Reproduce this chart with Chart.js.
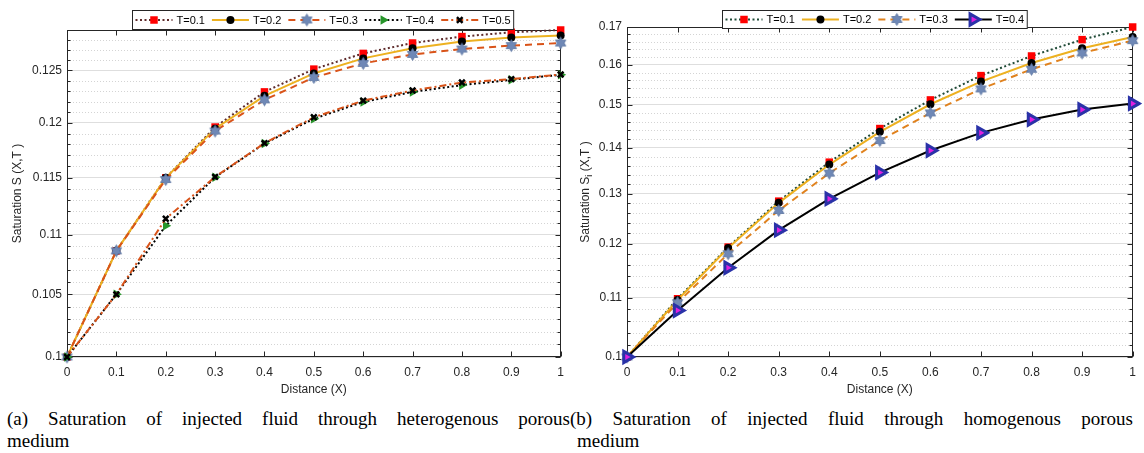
<!DOCTYPE html>
<html>
<head>
<meta charset="utf-8">
<script src="https://cdn.jsdelivr.net/npm/chart.js@4.4.1/dist/chart.umd.min.js"></script>
<style>
html,body{margin:0;padding:0;background:#fff;}
body{width:1144px;height:453px;overflow:hidden;position:relative;}
.box{position:absolute;top:0;width:572px;height:400px;}
canvas{display:block;}
.cap{position:absolute;font-family:"Liberation Serif","Times New Roman",serif;font-size:19px;line-height:22px;color:#000;}
.cap .l1{text-align:justify;text-align-last:justify;}
</style>
</head>
<body>
<div class="box" style="left:0"><canvas id="cLeft" width="572" height="400"></canvas></div>
<div class="box" style="left:572px"><canvas id="cRight" width="572" height="400"></canvas></div>
<div class="cap" style="left:7px;top:408px;width:563px;">
  <div class="l1">(a) Saturation of injected fluid through heterogenous porous</div>
  <div>medium</div>
</div>
<div class="cap" style="left:577px;top:408px;width:556px;">
  <div class="l1" style="text-indent:-7px">(b) Saturation of injected fluid through homogenous porous</div>
  <div>medium</div>
</div>
<script>
// ---------------- DATA ----------------
const xValues = [0, 0.1, 0.2, 0.3, 0.4, 0.5, 0.6, 0.7, 0.8, 0.9, 1];
const xTicks  = [0, 0.1, 0.2, 0.3, 0.4, 0.5, 0.6, 0.7, 0.8, 0.9, 1];

// (a) heterogenous porous medium
const leftLabels = ['T=0.1', 'T=0.2', 'T=0.3', 'T=0.4', 'T=0.5'];
const leftT01 = [0.1, 0.10862, 0.11497, 0.11961, 0.12293, 0.12513, 0.12667, 0.12770, 0.12834, 0.12877, 0.12900];
const leftT02 = [0.1, 0.10862, 0.11497, 0.11946, 0.12255, 0.12471, 0.12618, 0.12717, 0.12784, 0.12824, 0.12844];
const leftT03 = [0.1, 0.10862, 0.11482, 0.11924, 0.12217, 0.12432, 0.12569, 0.12657, 0.12710, 0.12744, 0.12770];
const leftT04 = [0.1, 0.10500, 0.11076, 0.11503, 0.11809, 0.12039, 0.12197, 0.12293, 0.12358, 0.12409, 0.12458];
const leftT05 = [0.1, 0.10500, 0.11137, 0.11506, 0.11812, 0.12052, 0.12210, 0.12306, 0.12383, 0.12416, 0.12461];
const leftYTicks = [0.1, 0.105, 0.11, 0.115, 0.12, 0.125];
const leftYMin = 0.1, leftYMax = 0.129, leftMinorStep = 0.001;

// (b) homogenous porous medium
const rightLabels = ['T=0.1', 'T=0.2', 'T=0.3', 'T=0.4'];
const rightT01 = [0.1, 0.10982, 0.11933, 0.12848, 0.13679, 0.14439, 0.15119, 0.15722, 0.16226, 0.16658, 0.17000];
const rightT02 = [0.1, 0.10959, 0.11914, 0.12813, 0.13627, 0.14362, 0.15014, 0.15571, 0.16045, 0.16428, 0.16729];
const rightT03 = [0.1, 0.10912, 0.11806, 0.12657, 0.13439, 0.14163, 0.14807, 0.15389, 0.15882, 0.16305, 0.16631];
const rightT04 = [0.1, 0.10778, 0.11543, 0.12263, 0.12896, 0.13453, 0.13937, 0.14339, 0.14649, 0.14886, 0.15030];
const rightYTicks = [0.1, 0.11, 0.12, 0.13, 0.14, 0.15, 0.16, 0.17];
const rightYMin = 0.1, rightYMax = 0.17, rightMinorStep = 0.002;

// ---------------- STYLE HELPERS ----------------
const FONT = '"Liberation Sans", Arial, Helvetica, sans-serif';
const AXIS = '#262626';

function hexagram(r, fill, stroke) {
  const c = document.createElement('canvas');
  const s = Math.ceil(2 * r + 3);
  c.width = s; c.height = s;
  const g = c.getContext('2d');
  g.translate(s / 2, s / 2);
  g.beginPath();
  for (let k = 0; k < 12; k++) {
    const ang = -Math.PI / 2 + k * Math.PI / 6;
    const rr = (k % 2 === 0) ? r : r / Math.sqrt(3);
    g.lineTo(rr * Math.cos(ang), rr * Math.sin(ang));
  }
  g.closePath();
  g.fillStyle = fill; g.fill();
  g.strokeStyle = stroke; g.lineWidth = 0.8; g.stroke();
  return c;
}
const hexImg = hexagram(6, '#6F88B6', '#5A73A0');

function pts(arr) { return xValues.map((x, i) => ({ x: x, y: arr[i] })); }

function minorValues(min, max, step, majors) {
  const out = [];
  const n = Math.round((max - min) / step);
  for (let k = 1; k <= n; k++) {
    const v = +(min + k * step).toFixed(6);
    if (v > max + 1e-9) break;
    if (!majors.some(m => Math.abs(m - v) < 1e-9)) out.push(v);
  }
  return out;
}

// ---------------- MATLAB-LIKE AXES PLUGIN ----------------
const matlabAxes = {
  id: 'matlabAxes',
  beforeDatasetsDraw(chart, args, o) {
    const { ctx, chartArea: a } = chart;
    const x = chart.scales.x, y = chart.scales.y;
    ctx.save();
    ctx.strokeStyle = '#d4d4d4';
    ctx.lineWidth = 1;
    ctx.setLineDash([1, 2]);
    o.minor.forEach(v => {
      const py = Math.round(y.getPixelForValue(v)) + 0.5;
      ctx.beginPath(); ctx.moveTo(a.left, py); ctx.lineTo(a.right, py); ctx.stroke();
    });
    ctx.setLineDash([]);
    ctx.strokeStyle = AXIS;
    ctx.lineWidth = 1;
    const L = Math.round(a.left) + 0.5, R = Math.round(a.right) - 0.5;
    const T = Math.round(a.top) + 0.5, B = Math.round(a.bottom) - 0.5;
    ctx.strokeRect(L, T, R - L, B - T);
    ctx.beginPath();
    o.majorY.forEach(v => {
      const py = Math.round(y.getPixelForValue(v)) + 0.5;
      ctx.moveTo(L, py); ctx.lineTo(L + 5, py);
      ctx.moveTo(R, py); ctx.lineTo(R - 5, py);
    });
    o.minor.forEach(v => {
      const py = Math.round(y.getPixelForValue(v)) + 0.5;
      ctx.moveTo(L, py); ctx.lineTo(L + 3, py);
      ctx.moveTo(R, py); ctx.lineTo(R - 3, py);
    });
    xTicks.forEach(v => {
      const px = Math.round(x.getPixelForValue(v)) + 0.5;
      ctx.moveTo(px, B); ctx.lineTo(px, B - 5);
      ctx.moveTo(px, T); ctx.lineTo(px, T + 5);
    });
    ctx.stroke();
    ctx.restore();
  },
  afterDraw(chart, args, o) {
    const { ctx, chartArea: a } = chart;
    ctx.save();
    ctx.translate(o.yTitleX, (a.top + a.bottom) / 2);
    ctx.rotate(-Math.PI / 2);
    ctx.fillStyle = AXIS;
    ctx.textBaseline = 'middle';
    ctx.textAlign = 'left';
    const big = '12px ' + FONT, small = '9px ' + FONT;
    let total = 0;
    o.yTitle.forEach(p => { ctx.font = p.sub ? small : big; total += ctx.measureText(p.t).width; });
    let cx = -total / 2;
    o.yTitle.forEach(p => {
      ctx.font = p.sub ? small : big;
      ctx.fillText(p.t, cx, p.sub ? 4 : 0);
      cx += ctx.measureText(p.t).width;
    });
    ctx.restore();

    const lg = o.legend;
    ctx.save();
    ctx.font = lg.fontSize + 'px ' + FONT;
    const ds = chart.data.datasets;
    const widths = ds.map(d => lg.sampleW + lg.gapS + ctx.measureText(d.label).width);
    const boxW = lg.padL + widths.reduce((s, w) => s + w, 0) + lg.gapI * (ds.length - 1) + lg.padR;
    const bx = Math.round(lg.left) + 0.5, by = Math.round(lg.top) + 0.5;
    ctx.fillStyle = '#ffffff';
    ctx.fillRect(bx, by, boxW, lg.height);
    ctx.strokeStyle = AXIS; ctx.lineWidth = 1;
    ctx.strokeRect(bx, by, boxW, lg.height);
    const ym = by + lg.height / 2;
    let xc = bx + lg.padL;
    ds.forEach((d, i) => {
      ctx.save();
      ctx.strokeStyle = d.borderColor;
      ctx.lineWidth = d.borderWidth;
      ctx.setLineDash(d.borderDash || []);
      ctx.beginPath(); ctx.moveTo(xc, ym); ctx.lineTo(xc + lg.sampleW, ym); ctx.stroke();
      ctx.setLineDash([]);
      ctx.fillStyle = d.pointBackgroundColor;
      ctx.strokeStyle = d.pointBorderColor;
      ctx.lineWidth = d.pointBorderWidth;
      const opts = { pointStyle: d.pointStyle, rotation: d.pointRotation || 0, radius: d.pointRadius, borderWidth: d.pointBorderWidth };
      if (Chart.helpers && Chart.helpers.drawPoint) Chart.helpers.drawPoint(ctx, opts, xc + lg.sampleW / 2, ym);
      ctx.restore();
      ctx.fillStyle = '#000';
      ctx.textBaseline = 'middle'; ctx.textAlign = 'left';
      ctx.fillText(d.label, xc + lg.sampleW + lg.gapS, ym + 0.5);
      xc += widths[i] + lg.gapI;
    });
    ctx.restore();
  }
};

function fmt(v) { return String(+Number(v).toFixed(6)); }

function makeChart(id, datasets, yMin, yMax, yTicks, minorStep, yWidth, pad, plug) {
  return new Chart(document.getElementById(id), {
    type: 'line',
    data: { datasets: datasets },
    options: {
      responsive: false,
      devicePixelRatio: 1,
      animation: false,
      events: [],
      layout: { padding: pad },
      plugins: {
        legend: { display: false },
        tooltip: { enabled: false },
        matlabAxes: Object.assign({ minor: minorValues(yMin, yMax, minorStep, yTicks), majorY: yTicks }, plug)
      },
      elements: { line: { tension: 0 } },
      scales: {
        x: {
          type: 'linear', min: 0, max: 1,
          afterBuildTicks: s => { s.ticks = xTicks.map(v => ({ value: v })); },
          ticks: { callback: v => fmt(v), font: { family: FONT, size: 12 }, color: AXIS, padding: 8, maxRotation: 0, autoSkip: false },
          grid: { display: false, drawTicks: false },
          border: { display: false },
          title: { display: true, text: 'Distance (X)', font: { family: FONT, size: 12 }, color: AXIS, padding: { top: 0, bottom: 3 } },
          afterFit: s => { s.height = 43; }
        },
        y: {
          type: 'logarithmic', min: yMin, max: yMax, bounds: 'data',
          afterBuildTicks: s => { s.ticks = yTicks.map(v => ({ value: v })); },
          ticks: { callback: v => fmt(v), font: { family: FONT, size: 12 }, color: AXIS, padding: 5, autoSkip: false },
          grid: { display: true, drawTicks: false, color: '#dedede', lineWidth: 1 },
          border: { display: false },
          afterFit: s => { s.width = yWidth; }
        }
      }
    },
    plugins: [matlabAxes]
  });
}

// ---------------- LEFT CHART ----------------
const leftDatasets = [
  { label: leftLabels[0], data: pts(leftT01), borderColor: '#5E2B2B', borderWidth: 2, borderDash: [2, 2.5],
    pointStyle: 'rect', pointRadius: 5.3, pointBackgroundColor: '#FF0000', pointBorderColor: '#FF0000', pointBorderWidth: 0, order: 5, clip: false },
  { label: leftLabels[1], data: pts(leftT02), borderColor: '#EDB120', borderWidth: 2, borderDash: [],
    pointStyle: 'circle', pointRadius: 4, pointBackgroundColor: '#000000', pointBorderColor: '#000000', pointBorderWidth: 0, order: 4, clip: false },
  { label: leftLabels[2], data: pts(leftT03), borderColor: '#D95319', borderWidth: 2, borderDash: [7, 5],
    pointStyle: hexImg, pointRadius: 5, pointBackgroundColor: '#6F88B6', pointBorderColor: '#6F88B6', pointBorderWidth: 0, order: 3, clip: false },
  { label: leftLabels[3], data: pts(leftT04), borderColor: '#000000', borderWidth: 2, borderDash: [2, 2.5],
    pointStyle: 'triangle', pointRotation: 90, pointRadius: 5.5, pointBackgroundColor: '#27962A', pointBorderColor: '#27962A', pointBorderWidth: 0, order: 2, clip: false },
  { label: leftLabels[4], data: pts(leftT05), borderColor: '#D95319', borderWidth: 2, borderDash: [7, 3, 2, 3],
    pointStyle: 'crossRot', pointRadius: 4, pointBackgroundColor: '#000000', pointBorderColor: '#000000', pointBorderWidth: 2.5, order: 1, clip: false }
];
makeChart('cLeft', leftDatasets, leftYMin, leftYMax, leftYTicks, leftMinorStep, 67,
  { left: 0, right: 3, top: 30, bottom: 0 },
  { yTitleX: 18, yTitle: [{ t: 'Saturation S (X,T )' }],
    legend: { left: 132, top: 10, height: 19, fontSize: 11, sampleW: 37, gapS: 4, gapI: 7, padL: 3, padR: 3 } });

// ---------------- RIGHT CHART ----------------
const rightDatasets = [
  { label: rightLabels[0], data: pts(rightT01), borderColor: '#1F4A36', borderWidth: 2, borderDash: [2, 2.5],
    pointStyle: 'rect', pointRadius: 5.3, pointBackgroundColor: '#FF0000', pointBorderColor: '#FF0000', pointBorderWidth: 0, order: 4, clip: false },
  { label: rightLabels[1], data: pts(rightT02), borderColor: '#EDB120', borderWidth: 2, borderDash: [],
    pointStyle: 'circle', pointRadius: 4, pointBackgroundColor: '#000000', pointBorderColor: '#000000', pointBorderWidth: 0, order: 3, clip: false },
  { label: rightLabels[2], data: pts(rightT03), borderColor: '#E0821E', borderWidth: 2, borderDash: [7, 5],
    pointStyle: hexImg, pointRadius: 5, pointBackgroundColor: '#6F88B6', pointBorderColor: '#6F88B6', pointBorderWidth: 0, order: 2, clip: false },
  { label: rightLabels[3], data: pts(rightT04), borderColor: '#000000', borderWidth: 2, borderDash: [],
    pointStyle: 'triangle', pointRotation: 90, pointRadius: 6.5, pointBackgroundColor: '#E020E0', pointBorderColor: '#2A32A8', pointBorderWidth: 3, order: 1, clip: false }
];
makeChart('cRight', rightDatasets, rightYMin, rightYMax, rightYTicks, rightMinorStep, 55,
  { left: 0, right: 9, top: 27, bottom: 0 },
  { yTitleX: 14, yTitle: [{ t: 'Saturation S' }, { t: 'i', sub: true }, { t: ' (X,T )' }],
    legend: { left: 150, top: 10, height: 18, fontSize: 11, sampleW: 37, gapS: 4, gapI: 7, padL: 3, padR: 3 } });
</script>
</body>
</html>
